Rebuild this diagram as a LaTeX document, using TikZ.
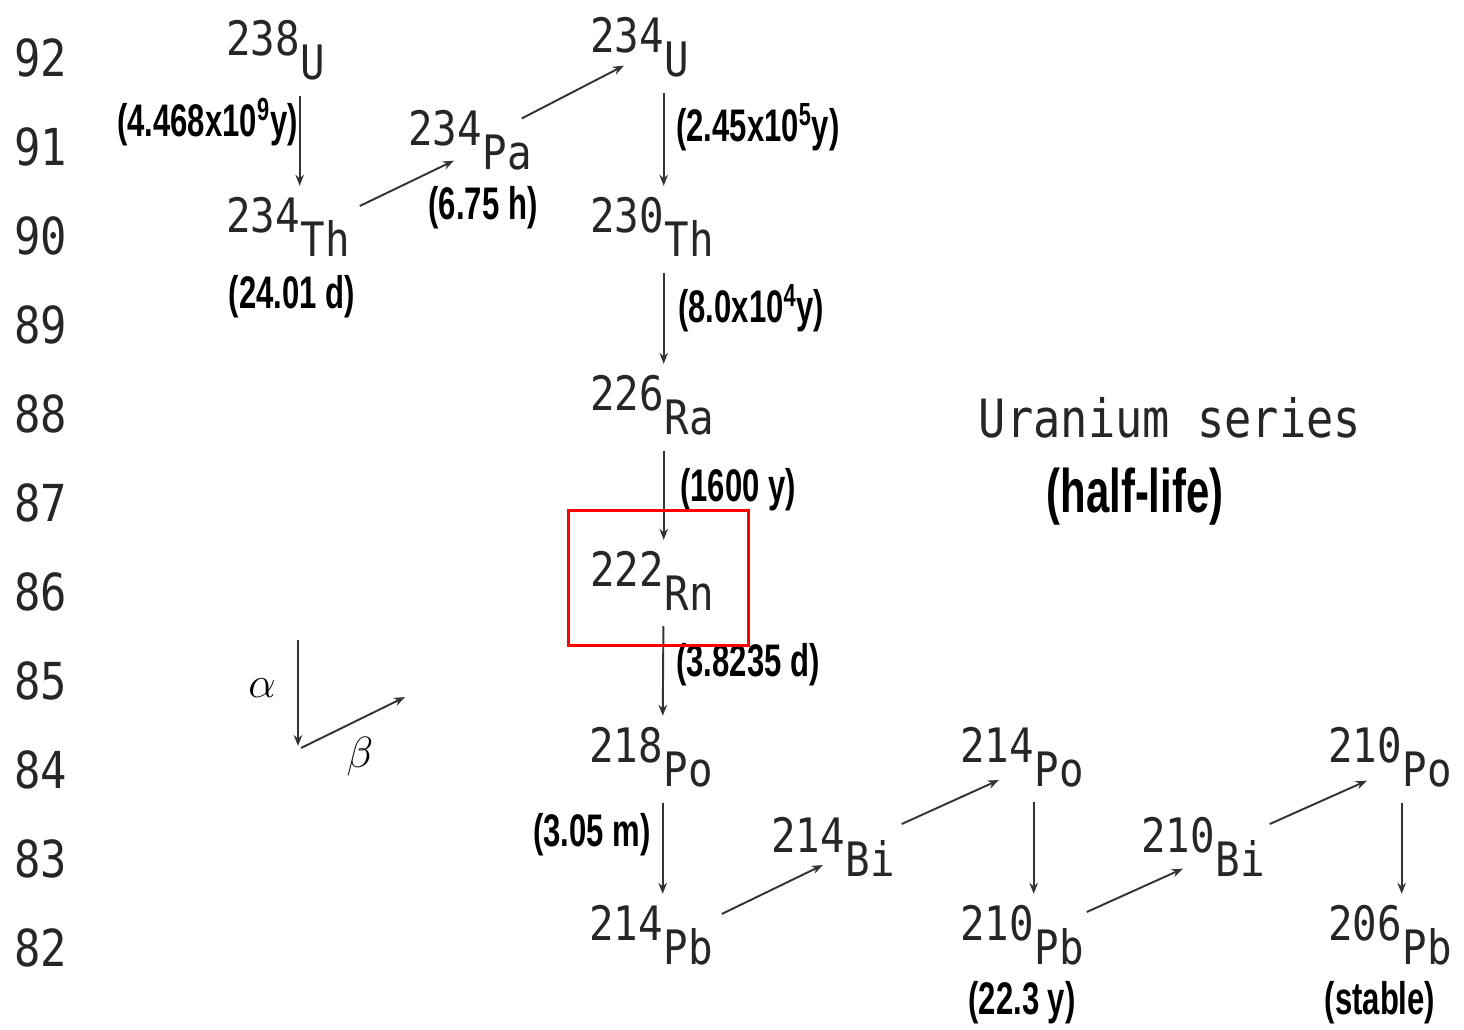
\documentclass[tikz,border=0pt]{standalone}
\usepackage{fontspec}
\usetikzlibrary{arrows.meta}
\newfontfamily\nucfont[FakeStretch=0.86]{DejaVu Sans Mono}
\newfontfamily\hlfont[FakeStretch=0.68]{Liberation Sans}

\begin{document}
\begin{tikzpicture}[x=0.02cm, y=-0.02cm,
  nuc/.style={font=\nucfont\fontsize{27}{30}\selectfont, text=black!85, inner sep=0pt, outer sep=0pt, anchor=base west},
  zlab/.style={font=\nucfont\fontsize{29}{30}\selectfont, text=black!85, inner sep=0pt, anchor=west},
  hl/.style={font=\hlfont\bfseries\fontsize{26}{27}\selectfont, inner sep=0pt},
  arr/.style={-{Stealth[length=0.22cm,width=0.17cm]}, line width=1.1pt, black!80},
  adecay/.style={arr, shorten <=0.8cm, shorten >=0.22cm}]
  \useasboundingbox (0,0) rectangle (1464,1029);
  % atomic numbers
  \foreach \z in {92,...,82}
    \node[zlab] (z\z) at (14,{58+(92-\z)*89}) {\z};
  % mass numbers
  \node[nuc] (u238) at (226,55) {238};
  \node[nuc] (th234) at (226,232) {234};
  \node[nuc] (pa234) at (408,145) {234};
  \node[nuc] (u234) at (590,52) {234};
  \node[nuc] (th230) at (590,232) {230};
  \node[nuc] (ra226) at (590,410) {226};
  \node[nuc] (rn222) at (590,586) {222};
  \node[nuc] (po218) at (589,762) {218};
  \node[nuc] (pb214) at (589,940) {214};
  \node[nuc] (bi214) at (771,852) {214};
  \node[nuc] (po214) at (960,762) {214};
  \node[nuc] (pb210) at (960,940) {210};
  \node[nuc] (bi210) at (1141,852) {210};
  \node[nuc] (po210) at (1328,762) {210};
  \node[nuc] (pb206) at (1328,940) {206};
  % elements
  \node[nuc] (u238e) at ([shift={(1,24)}]u238.base east) {U};
  \node[nuc] (th234e) at ([shift={(1,24)}]th234.base east) {Th};
  \node[nuc] (pa234e) at ([shift={(1,24)}]pa234.base east) {Pa};
  \node[nuc] (u234e) at ([shift={(1,24)}]u234.base east) {U};
  \node[nuc] (th230e) at ([shift={(1,24)}]th230.base east) {Th};
  \node[nuc] (ra226e) at ([shift={(1,24)}]ra226.base east) {Ra};
  \node[nuc] (rn222e) at ([shift={(1,24)}]rn222.base east) {Rn};
  \node[nuc] (po218e) at ([shift={(1,24)}]po218.base east) {Po};
  \node[nuc] (pb214e) at ([shift={(1,24)}]pb214.base east) {Pb};
  \node[nuc] (bi214e) at ([shift={(1,24)}]bi214.base east) {Bi};
  \node[nuc] (po214e) at ([shift={(1,24)}]po214.base east) {Po};
  \node[nuc] (pb210e) at ([shift={(1,24)}]pb210.base east) {Pb};
  \node[nuc] (bi210e) at ([shift={(1,24)}]bi210.base east) {Bi};
  \node[nuc] (po210e) at ([shift={(1,24)}]po210.base east) {Po};
  \node[nuc] (pb206e) at ([shift={(1,24)}]pb206.base east) {Pb};
  % alpha decays
  \draw[adecay] (u238.south east) -- (th234.north east);
  \draw[adecay] (u234.south east) -- (th230.north east);
  \draw[adecay] (th230.south east) -- (ra226.north east);
  \draw[adecay] (ra226.south east) -- (rn222.north east);
  \draw[adecay] (rn222.south east) -- (po218.north east);
  \draw[adecay] (po218.south east) -- (pb214.north east);
  \draw[adecay] (po214.south east) -- (pb210.north east);
  \draw[adecay] (po210.south east) -- (pb206.north east);
  % beta decays
  \draw[arr] ([shift={(10,-14)}]th234e.north east) -- ([shift={(9,15)}]pa234.south);
  \draw[arr] ([shift={(-10,-16)}]pa234e.north east) -- ([shift={(-3,13)}]u234.south);
  \draw[arr] ([shift={(9,-14)}]pb214e.north east) -- ([shift={(15,13)}]bi214.south);
  \draw[arr] ([shift={(7,-16)}]bi214e.north east) -- ([shift={(2,18)}]po214.south);
  \draw[arr] ([shift={(3,-16)}]pb210e.north east) -- ([shift={(5,16)}]bi210.south);
  \draw[arr] ([shift={(5,-16)}]bi210e.north east) -- ([shift={(2,18)}]po210.south);
  % half-lives
  \node[hl, anchor=east] (hl238) at (298,122) {(4.468x10\textsuperscript{9}y)};
  \node[hl] (hl234th) at (292,297) {(24.01 d)};
  \node[hl] (hl234pa) at (483,208) {(6.75 h)};
  \node[hl, anchor=west] (hl234u) at (676,127) {(2.45x10\textsuperscript{5}y)};
  \node[hl, anchor=west] (hl230) at (678,308) {(8.0x10\textsuperscript{4}y)};
  \node[hl, anchor=west] (hl226) at (680,490) {(1600 y)};
  \node[hl, anchor=west] (hl222) at (676,665) {(3.8235 d)};
  \node[hl, anchor=east] (hl218) at (651,835) {(3.05 m)};
  \node[hl] (hl210) at (1022,1003) {(22.3 y)};
  \node[hl] (hl206) at (1380,1003) {(stable)};
  % title
  \node[nuc, anchor=center, font=\nucfont\fontsize{30}{32}\selectfont] (title) at (1170,418) {Uranium series};
  \node[hl, font=\hlfont\bfseries\fontsize{35}{36}\selectfont] (sub) at (1135,497) {(half-life)};
  % legend
  \coordinate (ltop) at (298,640);
  \coordinate (lo) at (298,746);
  \coordinate (lbeta) at (405,697);
  \draw[arr] (ltop) -- (lo);
  \draw[arr] ([shift={(3,2)}]lo) -- (lbeta);
  \node[font=\fontsize{34}{34}\selectfont, inner sep=0pt] (lalpha) at (262,688) {$\alpha$};
  \node[font=\fontsize{34}{34}\selectfont, inner sep=0pt] (lbetalab) at (360,757) {$\beta$};
  % highlight
  \draw[red, line width=0.06cm] (568,510) rectangle (748,645);
\end{tikzpicture}
\end{document}
